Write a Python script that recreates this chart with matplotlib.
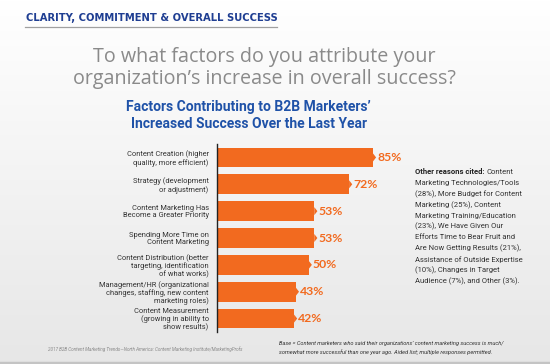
import numpy as np
import matplotlib
matplotlib.use("Agg")
import matplotlib.pyplot as plt
from matplotlib.patches import Polygon
from matplotlib import font_manager as fm

categories = [
    "Content Creation (higher\nquality, more efficient)",
    "Strategy (development\nor adjustment)",
    "Content Marketing Has\nBecome a Greater Priority",
    "Spending More Time on\nContent Marketing",
    "Content Distribution (better\ntargeting, identification\nof what works)",
    "Management/HR (organizational\nchanges, staffing, new content\nmarketing roles)",
    "Content Measurement\n(growing in ability to\nshow results)",
]
values = [85, 72, 53, 53, 50, 43, 42]
value_labels = ["85%", "72%", "53%", "53%", "50%", "43%", "42%"]

other_lines = [
    "Marketing Technologies/Tools",
    "(28%), More Budget for Content",
    "Marketing (25%), Content",
    "Marketing Training/Education",
    "(23%), We Have Given Our",
    "Efforts Time to Bear Fruit and",
    "Are Now Getting Results (21%),",
    "Assistance of Outside Expertise",
    "(10%), Changes in Target",
    "Audience (7%), and Other (3%).",
]

names = {f.name for f in fm.fontManager.ttflist}
NARROW = "Liberation Sans Narrow" if "Liberation Sans Narrow" in names else "Roboto"

W, H = 550, 364
DPI = 100
fig = plt.figure(figsize=(W / DPI, H / DPI), dpi=DPI)

def fx(x):
    return x / W

def fy(y):
    return 1 - y / H

# background gradient
bg = fig.add_axes([0, 0, 1, 1], zorder=-10)
grad = np.linspace(1.0, 0.905, 256).reshape(-1, 1)
bg.imshow(np.dstack([grad, grad, grad]), aspect="auto", extent=[0, 1, 0, 1])
bg.set_xlim(0, 1)
bg.set_ylim(0, 1)
bg.axis("off")
bg.axhline(fy(362.5), color="#c4c4c4", lw=2.5)

ORANGE = "#f26a1f"
BLUE_H = "#1f3e92"
BLUE_T = "#1f52a8"

# header
fig.text(fx(26), fy(18), "CLARITY, COMMITMENT & OVERALL SUCCESS", fontsize=7.2,
         fontweight="bold", color=BLUE_H, family="DejaVu Sans", va="center", ha="left")
bg.plot([fx(25), fx(277)], [fy(26.5), fy(26.5)], color="#a0a0a0", lw=0.9)

# question
fig.text(fx(264), fy(57), "To what factors do you attribute your", fontsize=14.2,
         color="#8a8a8a", family="Open Sans", ha="center", va="center")
fig.text(fx(264), fy(79), "organization\u2019s increase in overall success?", fontsize=14.2,
         color="#8a8a8a", family="Open Sans", ha="center", va="center")

# chart title
fig.text(fx(248), fy(107), "Factors Contributing to B2B Marketers\u2019", fontsize=10,
         fontweight="bold", color=BLUE_T, family="Roboto", ha="center", va="center")
fig.text(fx(249), fy(124), "Increased Success Over the Last Year", fontsize=10,
         fontweight="bold", color=BLUE_T, family="Roboto", ha="center", va="center")

# bar chart
ax = fig.add_axes([fx(217), fy(332), fx(183.5), (332 - 144) / H])
ax.patch.set_alpha(0)
y = np.arange(len(values))
bh = 0.73
ax.barh(y, values, height=bh, color=ORANGE, zorder=2)
ax.set_xlim(0, 100)
ax.set_ylim(len(values) - 0.5, -0.5)
tip = 1.7
for yi, v, lab in zip(y, values, value_labels):
    ax.add_patch(Polygon([[v, yi - 0.15], [v + tip, yi], [v, yi + 0.15]],
                         closed=True, color=ORANGE, lw=0, zorder=2))
    ax.text(v + tip + 0.6, yi, lab, color=ORANGE, fontsize=8.8, fontweight="bold",
            family="Lato", va="center", ha="left")
ax.set_yticks(y)
ax.set_yticklabels(categories, fontsize=5.4, family=NARROW, color="#333333",
                   linespacing=1.05)
ax.tick_params(axis="y", length=0, pad=6)
ax.set_xticks([])
for s in ["top", "right", "bottom"]:
    ax.spines[s].set_visible(False)
ax.spines["left"].set_color("#222222")
ax.spines["left"].set_linewidth(1.0)

# other reasons
fig.canvas.draw()
r = fig.canvas.get_renderer()
OFS = 5.5
t = fig.text(fx(415), fy(172), "Other reasons cited:", fontsize=OFS, fontweight="bold",
             family=NARROW, color="#222222", va="center", ha="left")
bb = t.get_window_extent(renderer=r)
fig.text(fx(bb.x1 + 2), fy(172), "Content", fontsize=OFS, family=NARROW,
         color="#333333", va="center", ha="left")
for i, line in enumerate(other_lines):
    fig.text(fx(415), fy(172 + 10.9 * (i + 1)), line, fontsize=OFS, family=NARROW,
             color="#333333", va="center", ha="left")

# footers
fig.text(fx(48), fy(349), "2017 B2B Content Marketing Trends\u2014North America: Content Marketing Institute/MarketingProfs",
         fontsize=3.3, style="italic", color="#8a8a8a", family=NARROW, va="center", ha="left")
fig.text(fx(279), fy(343.5), "Base = Content marketers who said their organizations\u2019 content marketing success is much/",
         fontsize=4.1, style="italic", color="#333333", family=NARROW, va="center", ha="left")
fig.text(fx(279), fy(352.5), "somewhat more successful than one year ago. Aided list; multiple responses permitted.",
         fontsize=4.1, style="italic", color="#333333", family=NARROW, va="center", ha="left")

fig.savefig("out.png", dpi=DPI)
